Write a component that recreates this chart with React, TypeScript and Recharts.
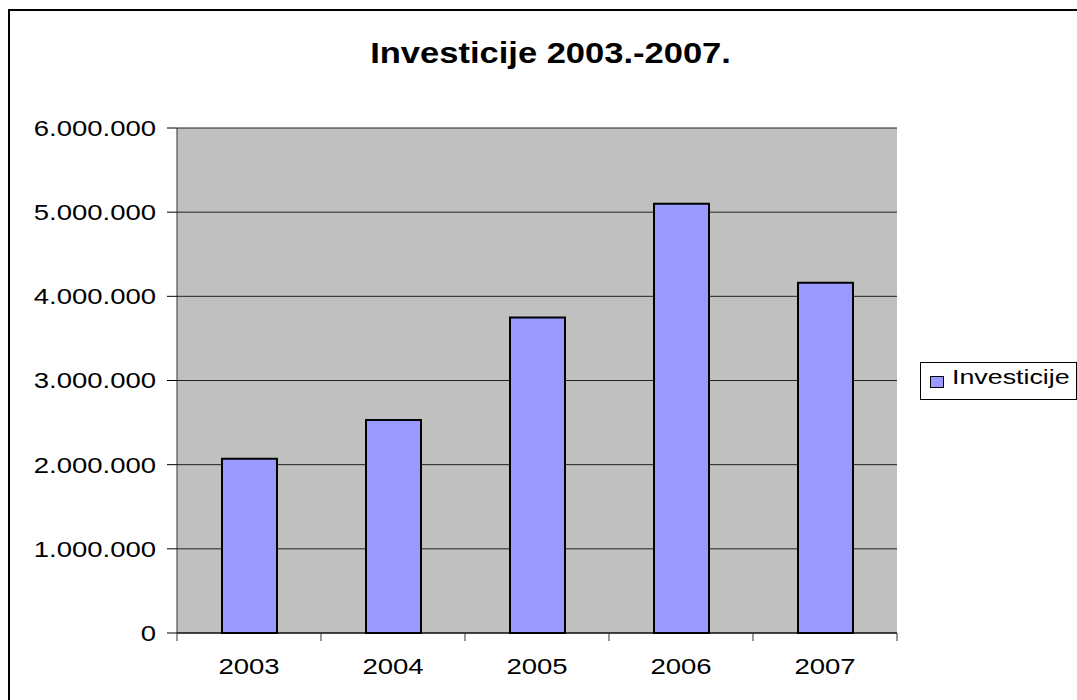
import { BarChart, Bar, XAxis, YAxis, CartesianGrid } from "recharts";

const YEARS = ["2003", "2004", "2005", "2006", "2007"];
const INVESTICIJE = [2070000, 2530000, 3750000, 5100000, 4160000];
const Y_TICKS = [0, 1000000, 2000000, 3000000, 4000000, 5000000, 6000000];

const data = YEARS.map((year, i) => ({ year, value: INVESTICIJE[i] }));

const FONT = '"Liberation Sans", Arial, sans-serif';
const STRETCH = 1.25;

const fmt = (n: number) =>
  n.toString().replace(/\B(?=(\d{3})+(?!\d))/g, ".");

function YTick({ x, y, payload }: any) {
  return (
    <g transform={`translate(${x},${y}) scale(${STRETCH},1)`}>
      <text x={0} y={7.9} textAnchor="end" fontSize={22} fontFamily={FONT} fill="#000">
        {fmt(payload.value)}
      </text>
    </g>
  );
}

// Excel puts the x tick marks between categories, so draw them at the band edges
function XTick({ x, y, payload, index, visibleTicksCount }: any) {
  const half = payload && typeof payload.offset === "number" ? payload.offset : 0;
  const last = index === (visibleTicksCount ?? YEARS.length) - 1;
  return (
    <g>
      {half > 0 && (
        <line x1={x - half} x2={x - half} y1={y} y2={y + 8} stroke="#333" />
      )}
      {half > 0 && last && (
        <line x1={x + half} x2={x + half} y1={y} y2={y + 8} stroke="#333" />
      )}
      <g transform={`translate(${x},${y + 41}) scale(${STRETCH},1)`}>
        <text x={0} y={0} textAnchor="middle" fontSize={22} fontFamily={FONT} fill="#000">
          {payload.value}
        </text>
      </g>
    </g>
  );
}

export default function App() {
  return (
    <div
      style={{
        position: "absolute",
        left: 0,
        top: 0,
        width: 1077,
        height: 700,
        overflow: "hidden",
        background: "#fff",
        fontFamily: FONT,
      }}
    >
      <div
        style={{
          position: "absolute",
          left: 8,
          top: 9,
          width: 1120,
          height: 720,
          border: "2px solid #000",
        }}
      />

      <div
        style={{
          position: "absolute",
          left: 0,
          top: 39,
          width: 1101,
          textAlign: "center",
          fontSize: 29,
          lineHeight: 1,
          fontWeight: "bold",
        }}
      >
        <span style={{ display: "inline-block", transform: "scaleX(1.19)" }}>
          Investicije 2003.-2007.
        </span>
      </div>

      <div style={{ position: "absolute", left: 0, top: 0 }}>
        <BarChart
          width={1077}
          height={700}
          data={data}
          margin={{ top: 128, right: 180, left: 0, bottom: 0 }}
        >
          <CartesianGrid
            vertical={false}
            stroke="#222"
            strokeWidth={1}
            fill="#C0C0C0"
            fillOpacity={1}
          />
          <XAxis
            dataKey="year"
            height={67}
            axisLine={{ stroke: "#000" }}
            tickLine={false}
            tickSize={0}
            tickMargin={0}
            tick={<XTick />}
          />
          <YAxis
            width={177}
            domain={[0, 6000000]}
            ticks={Y_TICKS}
            tickSize={10}
            tickMargin={11}
            tickLine={{ stroke: "#000" }}
            axisLine={{ stroke: "#333" }}
            tick={<YTick />}
          />
          <YAxis
            yAxisId="right"
            orientation="right"
            width={0}
            domain={[0, 6000000]}
            tick={false}
            tickLine={false}
            axisLine={{ stroke: "#808080" }}
          />
          <Bar
            dataKey="value"
            name="Investicije"
            barSize={55}
            fill="#9999FF"
            stroke="#000"
            strokeWidth={2}
            isAnimationActive={false}
          />
        </BarChart>
      </div>

      <div
        style={{
          position: "absolute",
          left: 920,
          top: 362,
          width: 157,
          height: 38,
          boxSizing: "border-box",
          border: "1px solid #000",
          background: "#fff",
        }}
      >
        <div
          style={{
            position: "absolute",
            left: 9,
            top: 13,
            width: 14,
            height: 12,
            boxSizing: "border-box",
            border: "1px solid #000",
            background: "#9999FF",
          }}
        />
        <div
          style={{
            position: "absolute",
            left: 31,
            top: 4,
            fontSize: 20,
            lineHeight: 1,
            whiteSpace: "nowrap",
            transform: "scaleX(1.34)",
            transformOrigin: "left center",
          }}
        >
          Investicije
        </div>
      </div>
    </div>
  );
}
